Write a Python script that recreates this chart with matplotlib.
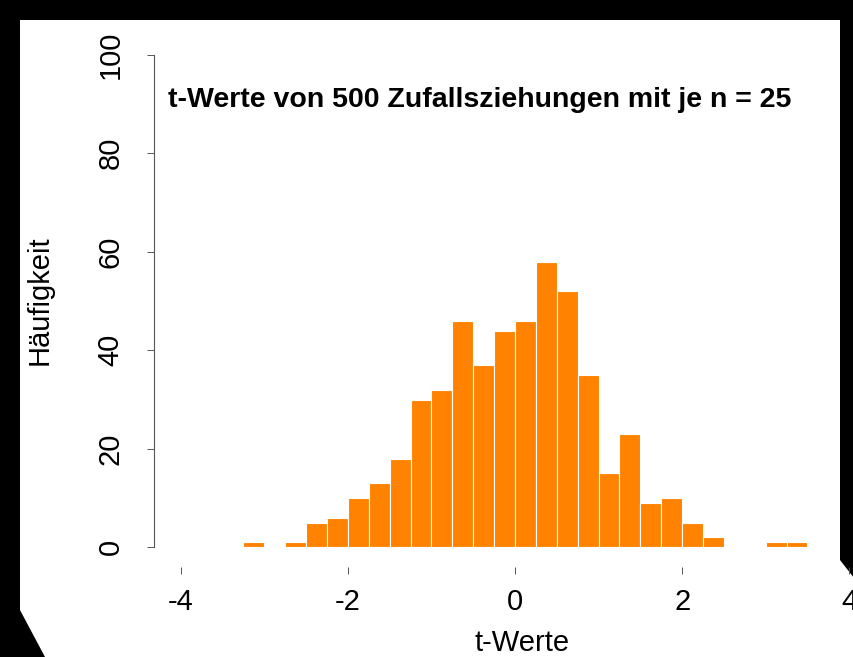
import matplotlib
matplotlib.use('Agg')
import matplotlib.pyplot as plt
from matplotlib.patches import Polygon
import numpy as np

# histogram of t values (bin width 0.25)
bin_start = -3.25
bin_width = 0.25
counts = [1, 0, 1, 5, 6, 10, 13, 18, 30, 32, 46, 37, 44, 46,
          58, 52, 35, 15, 23, 9, 10, 5, 2, 0, 0, 1, 1]
x_ticks = [-4, -2, 0, 2, 4]
y_ticks = [0, 20, 40, 60, 80, 100]
title = 't-Werte von 500 Zufallsziehungen mit je n = 25'
xlabel = 't-Werte'
ylabel = 'Häufigkeit'

plt.rcParams['font.family'] = ['Liberation Sans', 'DejaVu Sans']

W, H = 854, 657
fig = plt.figure(figsize=(W / 100, H / 100), dpi=100, facecolor='black')

# white page on the black screenshot background
page = [(20, 20), (840, 20), (840, 560), (854, 578), (854, 657), (45, 657), (20, 610)]
fig.patches.append(Polygon([(x / W, 1 - y / H) for x, y in page], closed=True,
                           transform=fig.transFigure, facecolor='white',
                           edgecolor='none', zorder=-5))

ax = fig.add_axes([154 / W, 1 - 567 / H, (W - 154) / W, (567 - 35) / H])
ax.set_facecolor('none')
ax.set_zorder(2)

lefts = bin_start + bin_width * np.arange(len(counts))
ax.bar(lefts, counts, width=bin_width, align='edge', color='#FF8200',
       edgecolor='white', linewidth=0.8)

ax.set_xlim(-4.32, 4.32 + (W - 876) / 83.5)
ax.set_ylim(-4, 104)

for s in ['top', 'right', 'bottom']:
    ax.spines[s].set_visible(False)
ax.spines['left'].set_bounds(0, 100)
ax.spines['left'].set_color('#555555')
ax.spines['left'].set_linewidth(0.8)

ax.set_xticks(x_ticks)
ax.set_xticklabels([str(v) for v in x_ticks])
ax.set_yticks(y_ticks)
ax.set_yticklabels([str(v) for v in y_ticks], rotation=90, va='center')
ax.tick_params(axis='both', labelsize=21, length=5, width=0.7, color='#555555')
ax.tick_params(axis='x', pad=10)
ax.tick_params(axis='y', pad=16)

fig.text(480 / W, 1 - 100 / H, title, ha='center', va='center',
         fontsize=20.5, fontweight='bold', zorder=3)
fig.text(522 / W, 1 - 643 / H, xlabel, ha='center', va='center', fontsize=21, zorder=3)
fig.text(40 / W, 1 - 300 / H, ylabel, ha='center', va='center', fontsize=21,
         rotation=90, zorder=3)

fig.savefig('out.png', dpi=100, facecolor=fig.get_facecolor())
